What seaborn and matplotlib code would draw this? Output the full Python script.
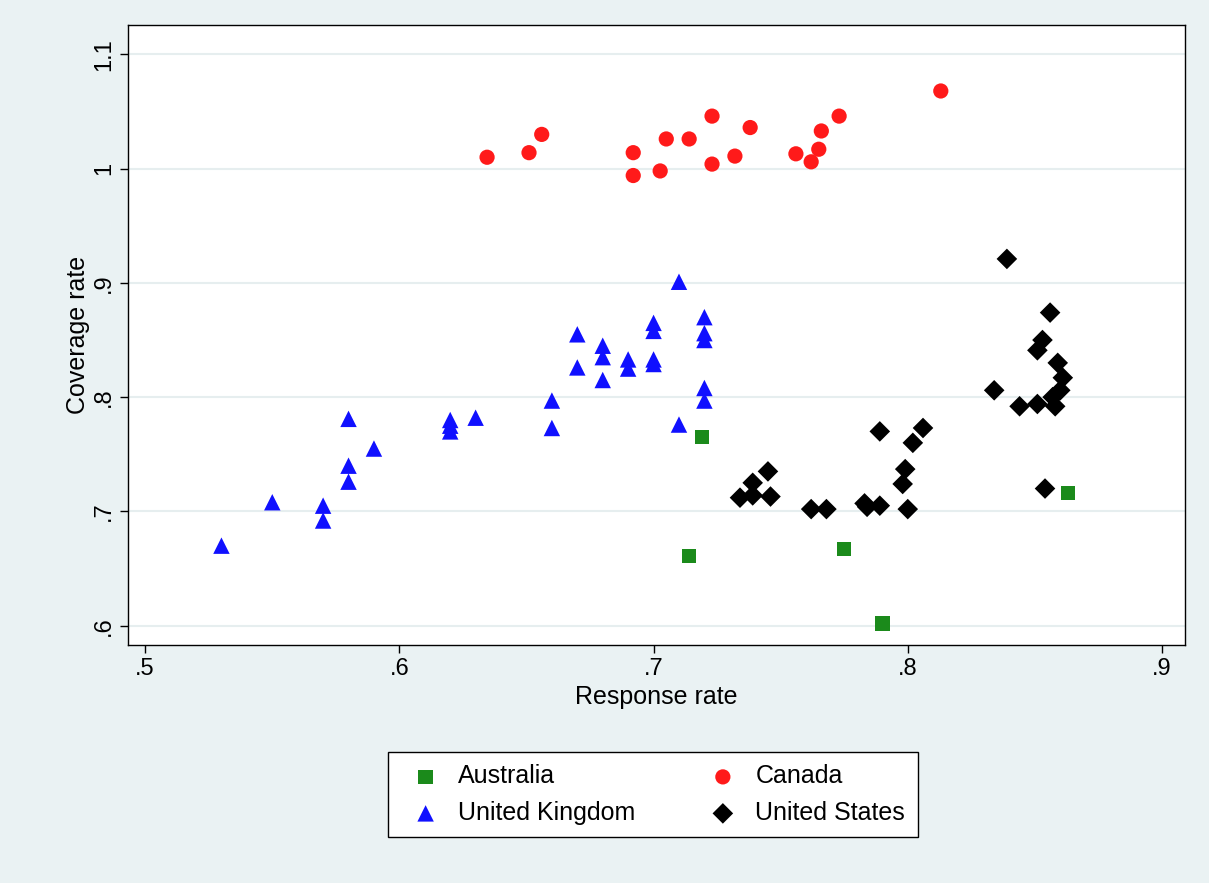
import matplotlib
matplotlib.use("Agg")
import seaborn as sns
import pandas as pd
import matplotlib.pyplot as plt

aus_x = [.719, .714, .775, .790, .863]
aus_y = [.765, .661, .667, .602, .716]

can_x = [.6345, .651, .656, .692, .692, .7026, .705, .714, .723, .723, .732, .738, .756, .762, .765, .766, .773, .813]
can_y = [1.010, 1.014, 1.030, 1.014, .994, .998, 1.026, 1.026, 1.046, 1.004, 1.011, 1.036, 1.013, 1.006, 1.017, 1.033, 1.046, 1.068]

uk_x = [.53, .55, .57, .57, .58, .58, .58, .59, .62, .62, .62, .63, .66, .66, .67, .67, .68, .68, .68,
        .69, .69, .70, .70, .70, .70, .71, .71, .72, .72, .72, .72, .72]
uk_y = [.670, .708, .705, .692, .781, .740, .726, .755, .780, .775, .770, .782, .797, .773, .855, .826,
        .845, .835, .815, .833, .825, .865, .858, .833, .829, .901, .776, .870, .856, .850, .808, .797]

us_x = [.839, .856, .853, .851, .834, .844, .851, .859, .861, .860, .857, .858, .854, .789, .806, .802,
        .799, .798, .800, .783, .784, .789, .762, .768, .745, .739, .734, .739, .746]
us_y = [.921, .874, .850, .841, .806, .792, .794, .830, .817, .806, .800, .792, .720, .770, .773, .760,
        .737, .724, .702, .707, .704, .705, .702, .702, .735, .725, .712, .714, .713]

countries = ["Australia", "Canada", "United Kingdom", "United States"]
df = pd.concat([
    pd.DataFrame({"x": aus_x, "y": aus_y, "country": "Australia"}),
    pd.DataFrame({"x": can_x, "y": can_y, "country": "Canada"}),
    pd.DataFrame({"x": uk_x, "y": uk_y, "country": "United Kingdom"}),
    pd.DataFrame({"x": us_x, "y": us_y, "country": "United States"}),
])

sns.set_style("white")
plt.rcParams["font.family"] = ["Liberation Sans", "DejaVu Sans"]
plt.rcParams["text.color"] = "black"
plt.rcParams["axes.labelcolor"] = "black"
plt.rcParams["xtick.color"] = "black"
plt.rcParams["ytick.color"] = "black"

fig = plt.figure(figsize=(12.09, 8.83), dpi=100, facecolor="#eaf2f3")
ax = fig.add_axes([0.106, 0.270, 0.874, 0.702])
ax.set_facecolor("white")

palette = {"Australia": "#1b8a1b", "Canada": "#ff1a1a", "United Kingdom": "#1010ff", "United States": "black"}
markers = {"Australia": "s", "Canada": "o", "United Kingdom": "^", "United States": "D"}
sizes = {"Australia": 110, "Canada": 120, "United Kingdom": 140, "United States": 110}
for c in countries:
    sub = df[df.country == c]
    sns.scatterplot(data=sub, x="x", y="y", color=palette[c], marker=markers[c],
                    s=sizes[c], edgecolor="none", label=c, ax=ax, zorder=3)

ax.set_xlim(.4933, .909)
ax.set_ylim(.5834, 1.126)
ax.set_xticks([.5, .6, .7, .8, .9])
ax.set_xticklabels([".5", ".6", ".7", ".8", ".9"], fontsize=17)
ax.set_yticks([.6, .7, .8, .9, 1.0, 1.1])
ax.set_yticklabels([".6", ".7", ".8", ".9", "1", "1.1"], fontsize=17, rotation=90, va="center")
ax.grid(axis="y", color="#e6eeef", linewidth=1.5)
ax.tick_params(length=6, width=1, color="black", left=True, bottom=True)
for s in ax.spines.values():
    s.set_color("black")
    s.set_linewidth(1)
ax.set_xlabel("Response rate", fontsize=18)
ax.set_ylabel("Coverage rate", fontsize=18, labelpad=2)

handles, labels = ax.get_legend_handles_labels()
ax.get_legend().remove()
order = [0, 2, 1, 3]
leg = fig.legend([handles[i] for i in order], [labels[i] for i in order], loc="center",
                 bbox_to_anchor=(0.54, 0.10), ncol=2, fontsize=18, frameon=True, fancybox=False,
                 edgecolor="black", facecolor="white", framealpha=1,
                 columnspacing=2.5, handletextpad=0.3, borderpad=0.5, labelspacing=0.5)
leg.get_frame().set_linewidth(1)

fig.savefig("out.png", dpi=100, facecolor=fig.get_facecolor())
